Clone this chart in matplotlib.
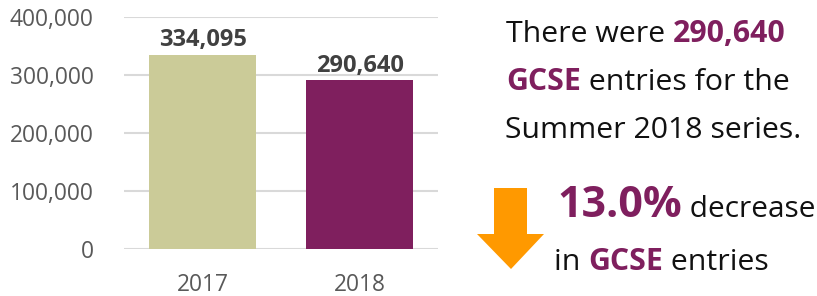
import matplotlib
matplotlib.use("Agg")
import matplotlib.pyplot as plt
from matplotlib.patches import Polygon
from matplotlib.ticker import FuncFormatter

# Data
years = ["2017", "2018"]
entries = [334095, 290640]
bar_colors = ["#CBCB98", "#7F1F5E"]
y_ticks = [0, 100000, 200000, 300000, 400000]

PURPLE = "#7F1F5E"
BLACK = "#111111"
FONT = "Open Sans"

plt.rcParams["font.family"] = [FONT, "DejaVu Sans"]

fig = plt.figure(figsize=(8.17, 2.96), dpi=100)
ax = fig.add_axes([124 / 817, 47 / 296, 314 / 817, 232 / 296])

# Bars
x = range(len(years))
ax.bar(x, entries, width=0.68, color=bar_colors, zorder=3)

# Data labels
for i, v in enumerate(entries):
    ax.annotate(f"{v:,}", (i, v), xytext=(0, 2), textcoords="offset points",
                ha="center", va="bottom", fontsize=17, fontweight="bold",
                color="#404040")

# Axes styling
ax.set_xlim(-0.5, 1.5)
ax.set_ylim(0, 400000)
ax.set_yticks(y_ticks)
ax.yaxis.set_major_formatter(FuncFormatter(lambda v, p: f"{int(v):,}"))
ax.set_xticks(list(x))
ax.set_xticklabels(years)
ax.tick_params(axis="both", length=0, labelsize=16.4, labelcolor="#595959")
ax.tick_params(axis="y", pad=22)
ax.tick_params(axis="x", pad=17)
ax.grid(axis="y", color="#D9D9D9", linewidth=1.5, zorder=0)
for s in ax.spines.values():
    s.set_visible(False)


# Text pieces placed one after another on a shared baseline
def line(parts, x0, y0, size=21.8):
    last = None
    for text, bold, color, fs in parts:
        kw = dict(fontsize=fs or size, color=color,
                  fontweight="bold" if bold else "normal",
                  ha="left", va="baseline")
        if last is None:
            last = fig.text(x0 / 817, y0 / 296, text, **kw)
        else:
            last = ax.annotate(text, xy=(1, y0), xycoords=(last, "figure pixels"),
                               annotation_clip=False, **kw)


line([("There were ", False, BLACK, None), ("290,640", True, PURPLE, None)], 506, 254)
line([("GCSE", True, PURPLE, None), (" entries for the", False, BLACK, None)], 506, 206)
line([("Summer 2018 series.", False, BLACK, None)], 505, 158)
line([("13.0%", True, PURPLE, 31), (" decrease", False, BLACK, 21.5)], 557, 79)
line([("in ", False, BLACK, None), ("GCSE", True, PURPLE, None), (" entries", False, BLACK, None)], 554, 26)

# Down arrow
arrow_px = [(494, 108), (527, 108), (527, 62), (544, 62), (511, 27), (477, 62), (494, 62)]
fig.patches.append(Polygon([(px / 817, py / 296) for px, py in arrow_px], closed=True,
                           transform=fig.transFigure, facecolor="#FF9900",
                           edgecolor="none"))

fig.savefig("out.png", dpi=100)
